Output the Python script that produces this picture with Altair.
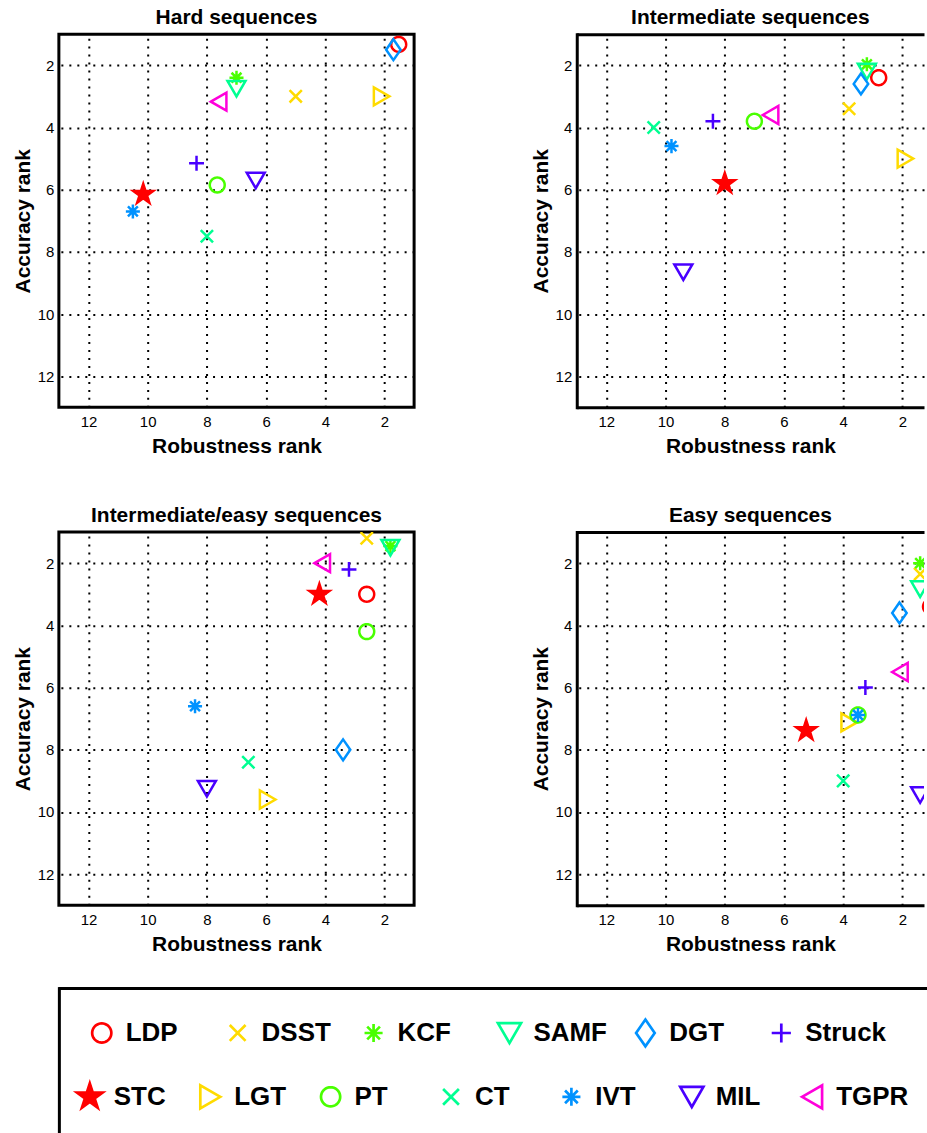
import math
import altair as alt
import pandas as pd

# ---------------- data ----------------
trackers = ["LDP", "DSST", "KCF", "SAMF", "DGT", "Struck", "STC",
            "LGT", "PT", "CT", "IVT", "MIL", "TGPR"]
colors = ["#FF0000", "#FFDB00", "#49FF00", "#00FF92", "#0092FF", "#4900FF",
          "#FF0000", "#FFDB00", "#49FF00", "#00FF92", "#0092FF", "#4900FF",
          "#FF00DB"]
panel_titles = ["Hard sequences", "Intermediate sequences",
                "Intermediate/easy sequences", "Easy sequences"]

hard_rob = [1.52, 5.0, 7.0, 7.0, 1.7, 8.35, 10.15, 2.1, 7.65, 8.0, 10.5, 6.35, 7.6]
hard_acc = [1.33, 3.0, 2.4, 2.75, 1.5, 5.15, 6.15, 3.0, 5.85, 7.5, 6.7, 5.7, 3.17]

inter_rob = [2.8, 3.8, 3.2, 3.2, 3.4, 8.4, 8.0, 1.9, 7.0, 10.4, 9.8, 9.4, 6.45]
inter_acc = [2.4, 3.4, 1.97, 2.2, 2.6, 3.8, 5.8, 5.0, 3.8, 4.0, 4.6, 8.65, 3.6]

ie_rob = [2.6, 2.6, 1.8, 1.8, 3.4, 3.2, 4.2, 5.95, 2.6, 6.6, 8.4, 8.0, 4.1]
ie_acc = [3.0, 1.2, 1.45, 1.5, 8.0, 2.2, 3.0, 9.6, 4.2, 8.4, 6.6, 9.25, 2.0]

easy_rob = [1.05, 1.4, 1.4, 1.4, 2.1, 3.25, 5.25, 3.8, 3.5, 4.0, 3.5, 1.4, 2.08]
easy_acc = [3.4, 2.35, 2.0, 2.83, 3.6, 6.0, 7.38, 7.12, 6.88, 9.0, 6.88, 9.45, 5.5]

rank_ticks = [2, 4, 6, 8, 10, 12]
legend_rows = [trackers[:6], trackers[6:]]

# ---------------- marker shapes (MATLAB-like) ----------------
def star_path(R=0.95, ratio=0.382):
    pts = []
    for k in range(10):
        ang = -math.pi / 2 + k * math.pi / 5
        r = R if k % 2 == 0 else R * ratio
        pts.append(f"{r * math.cos(ang):.3f},{r * math.sin(ang):.3f}")
    return "M" + "L".join(pts) + "Z"


def circle_path(r=0.68, n=36):
    pts = []
    for k in range(n):
        ang = 2 * math.pi * k / n
        pts.append(f"{r * math.cos(ang):.3f},{r * math.sin(ang):.3f}")
    return "M" + "L".join(pts) + "Z"


CIRCLE = circle_path()
XMARK = "M-0.56,-0.56L0.56,0.56M-0.56,0.56L0.56,-0.56"
AST = "M0,-0.64L0,0.64M-0.64,0L0.64,0M-0.45,-0.45L0.45,0.45M-0.45,0.45L0.45,-0.45"
TDOWN = "M-0.82,-0.7L0.82,-0.7L0,0.72Z"
TLEFT = "M-0.72,0L0.7,-0.82L0.7,0.82Z"
TRIGHT = "M0.72,0L-0.7,-0.82L-0.7,0.82Z"
DIAM = "M0,-0.95L0.66,0L0,0.95L-0.66,0Z"
PLUS = "M-0.68,0L0.68,0M0,-0.68L0,0.68"
STAR = star_path()

shapes = [CIRCLE, XMARK, AST, TDOWN, DIAM, PLUS, STAR,
          TRIGHT, CIRCLE, XMARK, AST, TDOWN, TLEFT]
fills = ["STC" == t for t in trackers]
fill_colors = [c if f else "transparent" for c, f in zip(colors, fills)]

stroke_scale = alt.Scale(domain=trackers, range=colors)
fill_scale = alt.Scale(domain=trackers, range=fill_colors)
shape_scale = alt.Scale(domain=trackers, range=shapes)

FONT = "Liberation Sans"
FULL_W = 356
CUT_W = 348   # right-hand panels are cut by the page edge
PH = 374


def style_enc():
    return dict(
        stroke=alt.Stroke("tracker:N", scale=stroke_scale, legend=None),
        fill=alt.Fill("tracker:N", scale=fill_scale, legend=None),
        shape=alt.Shape("tracker:N", scale=shape_scale, legend=None),
    )


def panel(title, rob, acc, cut=False):
    df = pd.DataFrame({"tracker": trackers, "rob": rob, "acc": acc})
    w = CUT_W if cut else FULL_W
    xmin = 13 - 12 * w / FULL_W
    xs = alt.Scale(domain=[xmin, 13], reverse=True, nice=False, zero=False)
    ys = alt.Scale(domain=[1, 13], reverse=True, nice=False, zero=False)
    frame = dict(domain=cut, domainWidth=3, domainColor="black")
    pts = alt.Chart(df).mark_point(
        strokeWidth=2.5, opacity=1, size=484, clip=True
    ).encode(
        x=alt.X("rob:Q", scale=xs,
                axis=alt.Axis(values=rank_ticks, title="Robustness rank", **frame)),
        y=alt.Y("acc:Q", scale=ys,
                axis=alt.Axis(values=rank_ticks, title="Accuracy rank",
                              domainCap="square", **frame)),
        **style_enc(),
    )
    if not cut:
        return pts.properties(width=w, height=PH, title=title)
    top = alt.Chart(df).mark_point(opacity=0, clip=True).encode(
        x=alt.X("rob:Q", scale=xs,
                axis=alt.Axis(orient="top", labels=False, ticks=False, grid=False,
                              title=None, domain=True, domainWidth=3,
                              domainColor="black")),
    )
    return alt.layer(pts, top).resolve_axis(x="independent").properties(
        width=w, height=PH, title=title, view=alt.ViewBackground(strokeOpacity=0)
    )


p1 = panel(panel_titles[0], hard_rob, hard_acc)
p2 = panel(panel_titles[1], inter_rob, inter_acc, cut=True)
p3 = panel(panel_titles[2], ie_rob, ie_acc)
p4 = panel(panel_titles[3], easy_rob, easy_acc, cut=True)

# ---------------- legend box ----------------
LEG_W, LEG_H = 870, 145
# horizontal extent (scale domain) of each legend row, so entries spread as in MATLAB
row_domains = [[-0.0631, 1.2144], [-0.0428, 1.1589]]

lax_y = alt.Axis(orient="left", labels=False, ticks=False, grid=False, title=None,
                 domain=True, domainWidth=3, domainColor="black", domainCap="square")
ly = alt.Y("row:Q", scale=alt.Scale(domain=[-0.703, 1.563], reverse=True, nice=False,
                                    zero=False), axis=lax_y)

leg_layers = []
for r, names in enumerate(legend_rows):
    n = len(names)
    df_r = pd.DataFrame({"tracker": names, "row": [r] * n,
                         "slot": [i / (n - 1) for i in range(n)]})
    lx = alt.X("slot:Q",
               scale=alt.Scale(domain=row_domains[r], nice=False, zero=False),
               axis=alt.Axis(orient="top", labels=False, ticks=False, grid=False,
                             title=None, domain=True, domainWidth=3,
                             domainColor="black"))
    leg_layers.append(
        alt.Chart(df_r).mark_point(strokeWidth=2.7, opacity=1, size=800)
        .encode(x=lx, y=ly, **style_enc())
    )
    leg_layers.append(
        alt.Chart(df_r).mark_text(
            align="left", baseline="middle", dx=24, fontSize=26, fontWeight="bold",
            color="black", font=FONT
        ).encode(x=lx, y=ly, text="tracker:N")
    )

legend = alt.layer(*leg_layers).resolve_scale(x="independent").properties(
    width=LEG_W, height=LEG_H, view=alt.ViewBackground(strokeOpacity=0)
)

grid = alt.vconcat(
    alt.hconcat(p1, p2, spacing=114),
    alt.hconcat(p3, p4, spacing=114),
    spacing=45,
)

chart = alt.vconcat(grid, legend, spacing=32).configure(
    font=FONT,
    padding={"left": 10, "top": 4, "right": 0, "bottom": 0},
).configure_view(
    stroke="black", strokeWidth=3
).configure_axis(
    labelFont=FONT, labelFontSize=15, labelColor="black", labelPadding=5,
    titleFont=FONT, titleFontSize=21, titleFontWeight="bold", titleColor="black",
    titlePadding=4,
    grid=True, gridColor="black", gridOpacity=1, gridDash=[2, 6], gridWidth=2,
    ticks=False, domain=False,
).configure_axisX(
    labelPadding=7, titlePadding=6
).configure_title(
    font=FONT, fontSize=21, fontWeight="bold", color="black", offset=6, anchor="middle"
)

chart.save("out.html", embed_options={"renderer": "svg", "actions": False})
